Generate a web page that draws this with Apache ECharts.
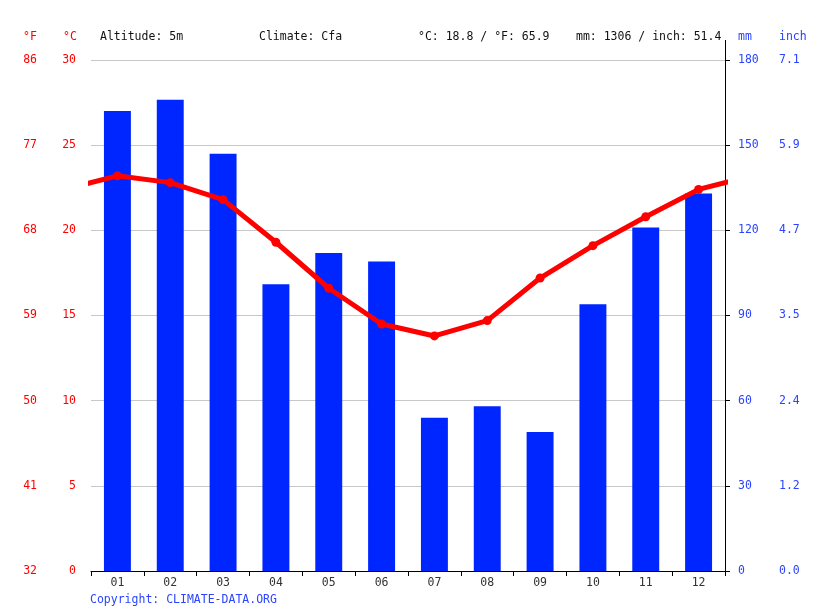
<!DOCTYPE html>
<html>
<head>
<meta charset="utf-8">
<script src="https://cdn.jsdelivr.net/npm/echarts@6/dist/echarts.min.js"></script>
<style>
html,body{margin:0;padding:0;background:#fff;}
#chart{width:815px;height:611px;}
</style>
</head>
<body>
<div id="chart"></div>
<script>
const months = ['01','02','03','04','05','06','07','08','09','10','11','12'];
const precipitationMm = [162,166,147,101,112,109,54,58,49,94,121,133];
const temperatureC = [23.2,22.8,21.8,19.3,16.6,14.5,13.8,14.7,17.2,19.1,20.8,22.4];
const fahrenheitTicks = ['32','41','50','59','68','77','86'];
const inchTicks = ['0.0','1.2','2.4','3.5','4.7','5.9','7.1'];
const headerTexts = ['Altitude: 5m','Climate: Cfa','°C: 18.8 / °F: 65.9','mm: 1306 / inch: 51.4'];

const FONT = 'DejaVu Sans Mono';
const FS = 11.5;
const RED = '#ff0000';
const BLUE = '#2a44ff';

// line wraps around the year (Dec before Jan, Jan after Dec), clipped at the plot edges
const lineData = [[0, temperatureC[11]]]
  .concat(temperatureC.map((v, i) => [i + 1, v]))
  .concat([[13, temperatureC[0]]]);

const chart = echarts.init(document.getElementById('chart'));
chart.setOption({
  animation: false,
  backgroundColor: '#fff',
  grid: {left: 91, right: 90, top: 60, bottom: 40, containLabel: false},
  xAxis: [
    {
      type: 'category', data: months, boundaryGap: true,
      axisLine: {show: true, lineStyle: {color: '#000', width: 1}},
      axisTick: {show: true, length: 5, lineStyle: {color: '#000'}},
      axisLabel: {color: '#333', fontFamily: FONT, fontSize: FS, margin: 6},
      splitLine: {show: false}
    },
    {
      type: 'value', min: 0.5, max: 12.5, show: false
    }
  ],
  yAxis: [
    {
      type: 'value', position: 'left', min: 0, max: 30, interval: 5,
      axisLine: {show: false}, axisTick: {show: false},
      axisLabel: {color: RED, fontFamily: FONT, fontSize: FS, margin: 15, padding: [2, 0, 0, 0]},
      splitLine: {show: true, lineStyle: {color: '#c8c8c8', width: 1}}
    },
    {
      type: 'value', position: 'left', min: 0, max: 30, interval: 5,
      axisLine: {show: false}, axisTick: {show: false},
      axisLabel: {color: RED, fontFamily: FONT, fontSize: FS, margin: 54, padding: [2, 0, 0, 0],
        formatter: v => fahrenheitTicks[Math.round(v / 5)]},
      splitLine: {show: false}
    },
    {
      type: 'value', position: 'right', min: 0, max: 180, interval: 30,
      axisLine: {show: true, lineStyle: {color: '#000', width: 1}},
      axisTick: {show: true, length: 5, lineStyle: {color: '#000'}},
      axisLabel: {color: BLUE, fontFamily: FONT, fontSize: FS, margin: 13, padding: [2, 0, 0, 0]},
      splitLine: {show: false}
    },
    {
      type: 'value', position: 'right', min: 0, max: 180, interval: 30,
      axisLine: {show: false}, axisTick: {show: false},
      axisLabel: {color: BLUE, fontFamily: FONT, fontSize: FS, margin: 54, padding: [2, 0, 0, 0],
        formatter: v => inchTicks[Math.round(v / 30)]},
      splitLine: {show: false}
    }
  ],
  series: [
    {
      type: 'bar', xAxisIndex: 0, yAxisIndex: 2, data: precipitationMm,
      barWidth: '51%', itemStyle: {color: '#0026ff'}, z: 2
    },
    {
      type: 'line', xAxisIndex: 1, yAxisIndex: 0, data: lineData, clip: true,
      symbol: 'circle', symbolSize: 9,
      lineStyle: {color: RED, width: 5}, itemStyle: {color: RED}, z: 3
    }
  ],
  graphic: [
    {type: 'line', shape: {x1: 725.5, y1: 40, x2: 725.5, y2: 60}, style: {stroke: '#000', lineWidth: 1}},
    {type: 'text', left: 23, top: 31, style: {text: '°F', fill: RED, font: FS + 'px ' + FONT}},
    {type: 'text', left: 63, top: 31, style: {text: '°C', fill: RED, font: FS + 'px ' + FONT}},
    {type: 'text', left: 738, top: 31, style: {text: 'mm', fill: BLUE, font: FS + 'px ' + FONT}},
    {type: 'text', left: 779, top: 31, style: {text: 'inch', fill: BLUE, font: FS + 'px ' + FONT}},
    {type: 'text', left: 100, top: 31, style: {text: headerTexts[0], fill: '#111', font: FS + 'px ' + FONT}},
    {type: 'text', left: 259, top: 31, style: {text: headerTexts[1], fill: '#111', font: FS + 'px ' + FONT}},
    {type: 'text', left: 418, top: 31, style: {text: headerTexts[2], fill: '#111', font: FS + 'px ' + FONT}},
    {type: 'text', left: 576, top: 31, style: {text: headerTexts[3], fill: '#111', font: FS + 'px ' + FONT}},
    {type: 'text', left: 90, top: 594, style: {text: 'Copyright: CLIMATE-DATA.ORG', fill: BLUE, font: FS + 'px ' + FONT}}
  ]
});
</script>
</body>
</html>
